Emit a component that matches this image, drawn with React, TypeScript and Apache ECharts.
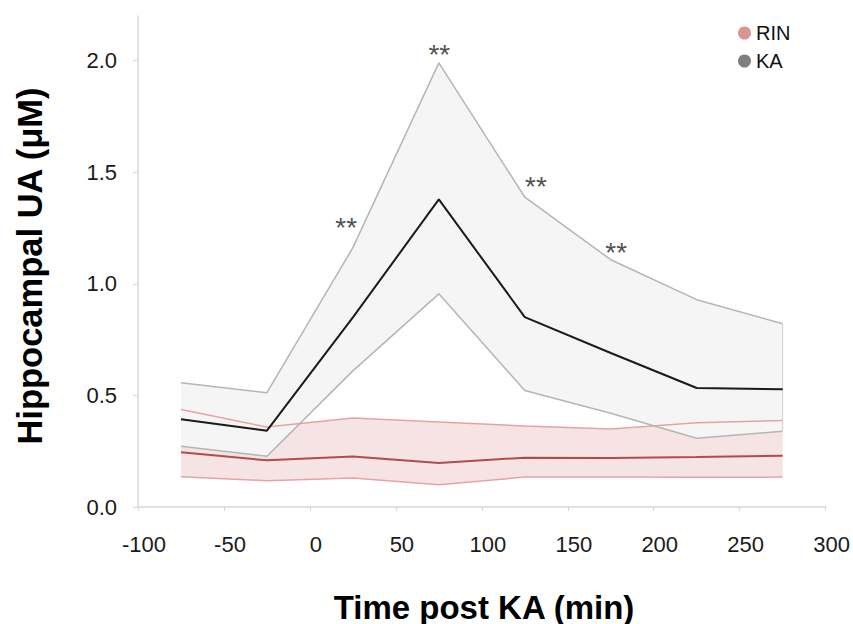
import React, { useEffect, useRef } from "react";
import * as echarts from "echarts";

const timePoints = [-75, -25, 25, 75, 125, 175, 225, 275];
const kaUpper = [0.557, 0.512, 1.162, 1.99, 1.388, 1.108, 0.929, 0.821];
const kaMean = [0.393, 0.342, 0.85, 1.378, 0.851, 0.69, 0.533, 0.528];
const kaLower = [0.272, 0.227, 0.61, 0.955, 0.522, 0.42, 0.308, 0.339];
const rinUpper = [0.437, 0.358, 0.399, 0.381, 0.363, 0.349, 0.378, 0.388];
const rinMean = [0.245, 0.209, 0.226, 0.197, 0.221, 0.22, 0.224, 0.23];
const rinLower = [0.136, 0.118, 0.13, 0.1, 0.134, 0.134, 0.133, 0.134];
const yTicks = [0, 0.5, 1.0, 1.5, 2.0];
const sigX = [21.1, 75.3, 131.5, 178.2];
const sigY = [1.254, 2.029, 1.437, 1.142];
const sigText = "**";

const FONT = "Liberation Sans, Arial, sans-serif";

function bandSeries(name: string, upper: number[], lower: number[], fill: string, z: number) {
  return {
    type: "custom",
    name,
    silent: true,
    z,
    data: [[timePoints[0], upper[0]]],
    renderItem: (params: any, api: any) => {
      const pts: number[][] = [];
      for (let i = 0; i < timePoints.length; i++) pts.push(api.coord([timePoints[i], upper[i]]));
      for (let i = timePoints.length - 1; i >= 0; i--) pts.push(api.coord([timePoints[i], lower[i]]));
      return {
        type: "polygon",
        shape: { points: pts },
        style: { fill, stroke: "none" },
      };
    },
  };
}

function lineSeries(name: string, data: number[], color: string, width: number, z: number, itemColor?: string) {
  return {
    type: "line",
    name,
    z,
    symbol: "none",
    data: timePoints.map((t, i) => [t, data[i]]),
    lineStyle: { color, width },
    itemStyle: { color: itemColor || color },
    silent: true,
  };
}

export default function App() {
  const ref = useRef<HTMLDivElement>(null);
  useEffect(() => {
    if (!ref.current) return;
    const chart = echarts.init(ref.current, null, { renderer: "svg" });
    const option: any = {
      animation: false,
      backgroundColor: "#ffffff",
      textStyle: { fontFamily: FONT },
      grid: { left: 138, right: 26, top: 16, bottom: 117 },
      legend: {
        orient: "vertical",
        left: 733,
        top: 18,
        icon: "circle",
        itemWidth: 13,
        itemHeight: 13,
        itemGap: 8,
        textStyle: { fontSize: 20, color: "#111", fontFamily: FONT, lineHeight: 20 },
        data: [
          { name: "RIN", itemStyle: { color: "#d99594" } },
          { name: "KA", itemStyle: { color: "#7f7f7f" } },
        ],
      },
      xAxis: {
        type: "value",
        min: -100,
        max: 300,
        interval: 50,
        axisLine: { show: true, onZero: false, lineStyle: { color: "#d9d9d9", width: 1.5 } },
        axisTick: { show: true, length: 4, lineStyle: { color: "#d9d9d9" } },
        splitLine: { show: false },
        axisLabel: { fontSize: 22, color: "#1a1a1a", margin: 26, fontFamily: FONT, padding: [0, 0, 0, 12] },
      },
      yAxis: {
        type: "value",
        min: 0,
        max: 2.2,
        interval: 0.5,
        axisLine: { show: true, onZero: false, lineStyle: { color: "#d9d9d9", width: 1.5 } },
        axisTick: { show: true, length: 5, lineStyle: { color: "#d9d9d9" }, customValues: yTicks },
        splitLine: { show: false },
        axisLabel: {
          fontSize: 22,
          color: "#1a1a1a",
          margin: 21,
          fontFamily: FONT,
          customValues: yTicks,
          formatter: (v: number) => v.toFixed(1),
        },
      },
      graphic: [
        {
          type: "text",
          x: 30,
          y: 266,
          rotation: Math.PI / 2,
          style: {
            text: "Hippocampal UA (μM)",
            fontSize: 34.5,
            fontWeight: "bold",
            fontFamily: FONT,
            fill: "#000",
            align: "center",
            verticalAlign: "middle",
          },
        },
        {
          type: "text",
          x: 484,
          y: 607,
          style: {
            text: "Time post KA (min)",
            fontSize: 33,
            fontWeight: "bold",
            fontFamily: FONT,
            fill: "#000",
            align: "center",
            verticalAlign: "middle",
          },
        },
      ],
      series: [
        bandSeries("RIN band", rinUpper, rinLower, "#f6e4e4", 1),
        bandSeries("KA band", kaUpper, kaLower, "#f5f5f5", 2),
        lineSeries("RIN upper", rinUpper, "#e6a3a3", 1.5, 3),
        lineSeries("RIN lower", rinLower, "#e6a3a3", 1.5, 3),
        lineSeries("KA upper", kaUpper, "#b5b5b5", 1.5, 3),
        lineSeries("KA lower", kaLower, "#b5b5b5", 1.5, 3),
        {
          type: "line",
          name: "KA edge",
          z: 3,
          symbol: "none",
          silent: true,
          data: [
            [timePoints[timePoints.length - 1], kaUpper[kaUpper.length - 1]],
            [timePoints[timePoints.length - 1], kaLower[kaLower.length - 1]],
          ],
          lineStyle: { color: "#d0d0d0", width: 1 },
        },
        lineSeries("RIN", rinMean, "#b24c4c", 2, 4, "#d99594"),
        lineSeries("KA", kaMean, "#1a1a1a", 2, 4, "#7f7f7f"),
        {
          type: "scatter",
          name: "sig",
          symbolSize: 0,
          silent: true,
          z: 5,
          data: sigX.map((x, i) => [x, sigY[i]]),
          label: {
            show: true,
            position: "inside",
            formatter: () => sigText,
            fontSize: 28,
            color: "#222",
            fontFamily: FONT,
          },
        },
      ],
    };
    chart.setOption(option);
    return () => chart.dispose();
  }, []);
  return <div ref={ref} style={{ width: 853, height: 624, position: "absolute", left: 0, top: 0 }} />;
}
